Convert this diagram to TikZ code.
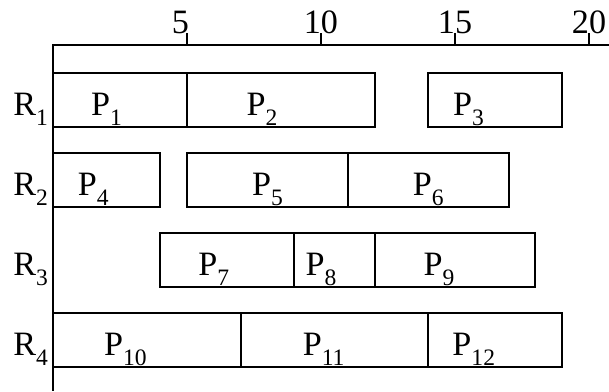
\documentclass[tikz,border=0pt]{standalone}
\usepackage{fontspec}
\setmainfont{Liberation Serif}
\newcommand{\sub}[1]{\raisebox{-0.3em}{\fontsize{20}{20}\selectfont #1}}

\begin{document}
\begin{tikzpicture}[x=0.8cm,
	job/.style={draw, line width=1.6pt},
	lbl/.style={anchor=base, inner sep=0pt, font=\fontsize{29}{30}\selectfont}]
	\useasboundingbox (-1.977,1.343) rectangle (20.746,-10.33);
	\coordinate (O) at (0, 0);
	\coordinate (E) at (20.746, 0);
	\coordinate (S) at (0, -10.33);

	% time axis and resource axis
	\draw [line width=1.4pt] (E) -- (O) -- (S);
	\foreach \t/\dx in {5/-0.2,10/0,15/0,20/0}
		\draw [line width=1pt] (\t,0) -- (\t,0.358) node [lbl, xshift=\dx cm] (t\t) {\t};

	% resources
	\foreach \r/\y in {1/-0.84, 2/-3.23, 3/-5.62, 4/-8.01}
		\node [lbl, anchor=base west] (r\r) at (-1.49, \y-1.252) {R\sub{\r}};

	% processes: start/end/number/label x/row top
	\foreach \a/\b/\n/\m/\y in {0/5/1/2.0/-0.84, 5/12/2/7.8/-0.84, 14/19/3/15.5/-0.84,
			0/4/4/1.5/-3.23, 5/11/5/8.0/-3.23, 11/17/6/14.0/-3.23,
			4/9/7/6.0/-5.62, 9/12/8/10.0/-5.62, 12/18/9/14.4/-5.62,
			0/7/10/2.7/-8.01, 7/14/11/10.1/-8.01, 14/19/12/15.7/-8.01}
	{
		\draw [job] (\a,\y) rectangle (\b,\y-1.61);
		\node [lbl] (p\n) at (\m, \y-1.252) {P\sub{\n}};
	}
\end{tikzpicture}
\end{document}
